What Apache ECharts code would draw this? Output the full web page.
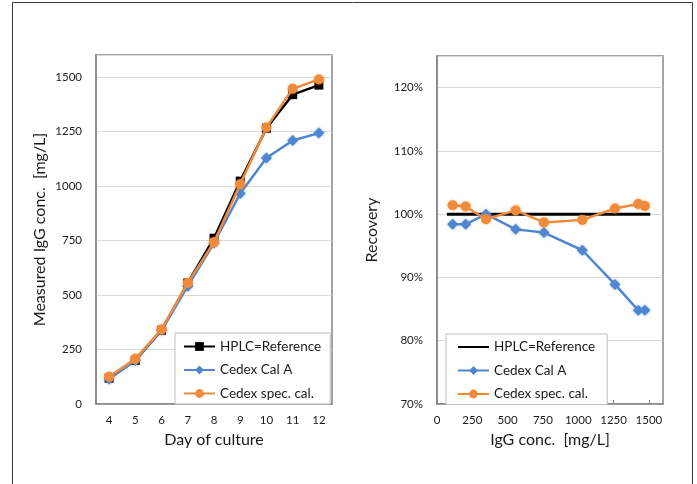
<!DOCTYPE html>
<html>
<head>
<meta charset="utf-8">
<script src="https://cdn.jsdelivr.net/npm/echarts@6/dist/echarts.min.js"></script>
<style>html,body{margin:0;padding:0;background:#fff}#c{width:697px;height:484px}</style>
</head>
<body>
<div id="c"></div>
<script>
// ---- Data ----
const seriesNames = ['HPLC=Reference', 'Cedex Cal A', 'Cedex spec. cal.'];
const days = ['4', '5', '6', '7', '8', '9', '10', '11', '12'];
const hplcConc = [118, 200, 338, 555, 760, 1022, 1264, 1418, 1462];
const cedexCalAConc = [115, 200, 338, 540, 738, 965, 1128, 1208, 1242];
const cedexSpecConc = [125, 207, 342, 555, 742, 1008, 1268, 1445, 1488];

const recoveryX = [111, 203, 347, 557, 757, 1029, 1260, 1425, 1472];
const refLineX = [70, 1510];
const refLineY = [100, 100];
const recoveryCalA = [98.4, 98.4, 100.0, 97.6, 97.1, 94.3, 88.9, 84.8, 84.8];
const recoverySpec = [101.4, 101.2, 99.2, 100.6, 98.7, 99.1, 100.9, 101.6, 101.3];

const leftYTicks = {min: 0, max: 1600, interval: 250};
const rightXTicks = {min: 0, max: 1600, interval: 250};
const rightYTicks = {min: 70, max: 125, interval: 10};

// ---- Styles ----
const FONT = 'Lato';
const BLACK = '#000000';
const BLUE = '#4F86CF';
const ORANGE = '#F08B3C';
const AXIS_GRAY = '#868686';
const GRID_GRAY = '#D9D9D9';
const TXT = '#1a1a1a';

function zip(a, b) { return a.map((v, i) => [v, b[i]]); }
const plain = v => String(v);

const chart = echarts.init(document.getElementById('c'), null, {renderer: 'canvas'});

const axisLabel = {color: TXT, fontFamily: FONT, fontSize: 11.5};
const nameText = {color: TXT, fontFamily: FONT, fontSize: 16};

const legendCommon = {
  orient: 'vertical',
  itemWidth: 31,
  itemHeight: 11,
  itemGap: 9.5,
  backgroundColor: '#fff',
  borderColor: '#BFBFBF',
  borderWidth: 1,
  borderRadius: 0,
  textStyle: {color: TXT, fontFamily: FONT, fontSize: 13.5, lineHeight: 11}
};

const option = {
  animation: false,
  backgroundColor: '#fff',
  textStyle: {fontFamily: FONT},
  graphic: [{
    type: 'rect', shape: {x: 12.5, y: 2.5, width: 680, height: 600},
    style: {fill: 'none', stroke: '#3a3a3a', lineWidth: 1}, silent: true, z: -10
  }],
  grid: [
    {left: 96, top: 55, width: 236, height: 349, show: true, borderColor: AXIS_GRAY, borderWidth: 1.5, backgroundColor: 'transparent'},
    {left: 437, top: 56, width: 226, height: 348, show: true, borderColor: AXIS_GRAY, borderWidth: 1.5, backgroundColor: 'transparent'}
  ],
  legend: [
    Object.assign({}, legendCommon, {
      left: 175, top: 333, padding: [6.5, 9, 3.5, 8],
      data: [
        {name: seriesNames[0]},
        {name: seriesNames[1]},
        {name: seriesNames[2]}
      ]
    }),
    Object.assign({}, legendCommon, {
      left: 446, top: 334, padding: [6, 12, 3.5, 11],
      data: [
        {name: seriesNames[0], itemStyle: {color: 'rgba(0,0,0,0)', borderWidth: 0}},
        {name: seriesNames[1]},
        {name: seriesNames[2]}
      ]
    })
  ],
  xAxis: [
    {
      gridIndex: 0, type: 'category', data: days, boundaryGap: true,
      name: 'Day of culture', nameLocation: 'middle', nameGap: 28, nameTextStyle: nameText,
      axisLine: {lineStyle: {color: AXIS_GRAY, width: 1.5}},
      axisTick: {inside: true, length: 4, lineStyle: {color: AXIS_GRAY, width: 1}},
      axisLabel: Object.assign({margin: 10}, axisLabel),
      splitLine: {show: false}
    },
    {
      gridIndex: 1, type: 'value', min: rightXTicks.min, max: rightXTicks.max, interval: rightXTicks.interval,
      name: 'IgG conc.  [mg/L]', nameLocation: 'middle', nameGap: 28, nameTextStyle: nameText,
      axisLine: {lineStyle: {color: AXIS_GRAY, width: 1.5}},
      axisTick: {inside: true, length: 4, lineStyle: {color: AXIS_GRAY, width: 1}},
      axisLabel: Object.assign({margin: 10, showMaxLabel: false, formatter: plain}, axisLabel),
      splitLine: {show: false}
    }
  ],
  yAxis: [
    {
      gridIndex: 0, type: 'value', min: leftYTicks.min, max: leftYTicks.max, interval: leftYTicks.interval,
      name: 'Measured IgG conc.  [mg/L]', nameLocation: 'middle', nameGap: 48, nameTextStyle: nameText,
      axisLine: {show: true, lineStyle: {color: AXIS_GRAY, width: 1.5}},
      axisTick: {show: false},
      axisLabel: Object.assign({margin: 14, showMaxLabel: false, formatter: plain}, axisLabel),
      splitLine: {lineStyle: {color: GRID_GRAY, width: 1}}
    },
    {
      gridIndex: 1, type: 'value', min: rightYTicks.min, max: rightYTicks.max, interval: rightYTicks.interval,
      name: 'Recovery', nameLocation: 'middle', nameGap: 57, nameTextStyle: nameText,
      axisLine: {show: true, lineStyle: {color: AXIS_GRAY, width: 1.5}},
      axisTick: {show: false},
      axisLabel: Object.assign({margin: 14, showMaxLabel: false, formatter: '{value}%'}, axisLabel),
      splitLine: {lineStyle: {color: GRID_GRAY, width: 1}}
    }
  ],
  series: [
    {
      name: seriesNames[0], type: 'line', xAxisIndex: 0, yAxisIndex: 0, data: hplcConc,
      symbol: 'rect', symbolSize: 9, lineStyle: {color: BLACK, width: 2.5}, itemStyle: {color: BLACK}, z: 2
    },
    {
      name: seriesNames[1], type: 'line', xAxisIndex: 0, yAxisIndex: 0, data: cedexCalAConc,
      symbol: 'diamond', symbolSize: 11, lineStyle: {color: BLUE, width: 2.5},
      itemStyle: {color: BLUE, shadowBlur: 3, shadowColor: 'rgba(79,134,207,0.6)'}, z: 3
    },
    {
      name: seriesNames[2], type: 'line', xAxisIndex: 0, yAxisIndex: 0, data: cedexSpecConc,
      symbol: 'circle', symbolSize: 10, lineStyle: {color: ORANGE, width: 2.5},
      itemStyle: {color: ORANGE, shadowBlur: 3, shadowColor: 'rgba(240,139,60,0.6)'}, z: 4
    },
    {
      name: seriesNames[0], type: 'line', xAxisIndex: 1, yAxisIndex: 1, data: zip(refLineX, refLineY),
      symbol: 'none', lineStyle: {color: BLACK, width: 3}, itemStyle: {color: BLACK}, z: 2
    },
    {
      name: seriesNames[1], type: 'line', xAxisIndex: 1, yAxisIndex: 1, data: zip(recoveryX, recoveryCalA),
      symbol: 'diamond', symbolSize: 11, lineStyle: {color: BLUE, width: 2.5},
      itemStyle: {color: BLUE, shadowBlur: 3, shadowColor: 'rgba(79,134,207,0.6)'}, z: 3
    },
    {
      name: seriesNames[2], type: 'line', xAxisIndex: 1, yAxisIndex: 1, data: zip(recoveryX, recoverySpec),
      symbol: 'circle', symbolSize: 10, lineStyle: {color: ORANGE, width: 2.5},
      itemStyle: {color: ORANGE, shadowBlur: 3, shadowColor: 'rgba(240,139,60,0.6)'}, z: 4
    }
  ]
};
chart.setOption(option);
</script>
</body>
</html>
